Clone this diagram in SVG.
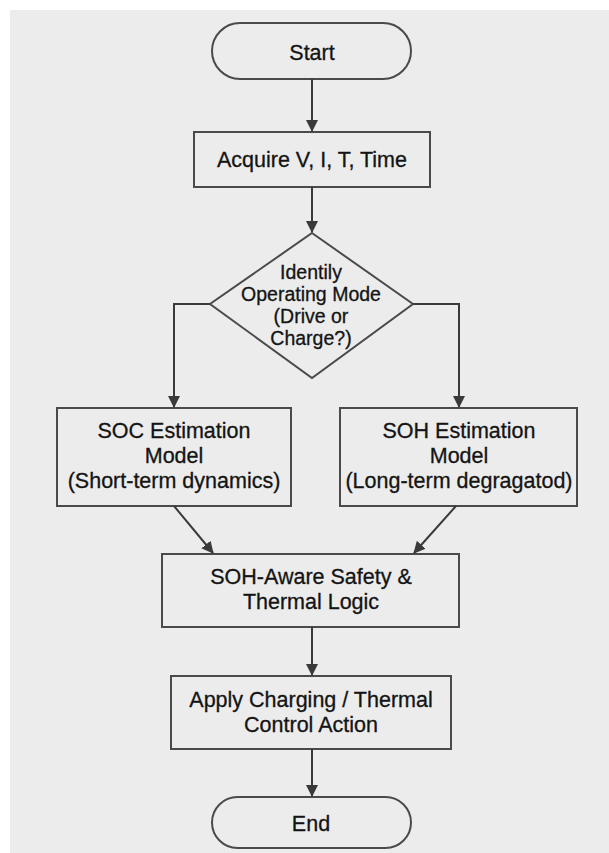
<svg xmlns="http://www.w3.org/2000/svg" width="609" height="853" viewBox="0 0 609 853">
<defs>
<marker id="ah" viewBox="0 0 12 12" refX="11" refY="6" markerWidth="12" markerHeight="12" markerUnits="userSpaceOnUse" orient="auto">
<path d="M0,0 L12,6 L0,12 Z" fill="#3a3a3a"/>
</marker>
<style>
.shape{fill:none;stroke:#4a4a4a;stroke-width:2}
.t{font-family:"Liberation Sans",Arial,sans-serif;font-size:21.5px;fill:#141414;text-anchor:middle;stroke:#141414;stroke-width:0.3}
.d{font-size:19.5px}
.c{fill:none;stroke:#3a3a3a;stroke-width:2;marker-end:url(#ah)}
</style>
</defs>
<rect x="0" y="0" width="609" height="853" fill="#ffffff"/>
<rect x="10" y="10" width="599" height="843" fill="#ececec"/>
<g id="start">
<rect class="shape" x="212" y="23" width="199" height="56" rx="28" ry="28"/>
<text class="t" x="312" y="60">Start</text>
</g>
<g id="acquire">
<rect class="shape" x="194" y="132" width="236" height="55"/>
<text class="t" x="312" y="167">Acquire V, I, T, Time</text>
</g>
<g id="mode">
<polygon class="shape" points="312,233 413,304 312,378 210,304"/>
<text class="t d" x="311" y="279">Identily</text>
<text class="t d" x="311" y="301">Operating Mode</text>
<text class="t d" x="311" y="323">(Drive or</text>
<text class="t d" x="311" y="345">Charge?)</text>
</g>
<g id="soc">
<rect class="shape" x="57" y="408" width="234" height="98"/>
<text class="t" x="174" y="438">SOC Estimation</text>
<text class="t" x="174" y="463">Model</text>
<text class="t" x="174" y="488">(Short-term dynamics)</text>
</g>
<g id="soh">
<rect class="shape" x="340" y="408" width="237" height="98"/>
<text class="t" x="459" y="438">SOH Estimation</text>
<text class="t" x="459" y="463">Model</text>
<text class="t" x="459" y="488">(Long-term degragatod)</text>
</g>
<g id="logic">
<rect class="shape" x="162" y="554" width="297" height="73"/>
<text class="t" x="311" y="584">SOH-Aware Safety &amp;</text>
<text class="t" x="311" y="609">Thermal Logic</text>
</g>
<g id="apply">
<rect class="shape" x="171" y="676" width="280" height="73"/>
<text class="t" x="311" y="707">Apply Charging / Thermal</text>
<text class="t" x="311" y="732">Control Action</text>
</g>
<g id="end">
<rect class="shape" x="212" y="797" width="199" height="51" rx="25.5" ry="25.5"/>
<text class="t" x="311" y="831">End</text>
</g>
<g id="connectors">
<path class="c" d="M312,79 V131"/>
<path class="c" d="M312,187 V232"/>
<path class="c" d="M210,304 H174 V407"/>
<path class="c" d="M413,304 H459 V407"/>
<path class="c" d="M174,506 L213,553"/>
<path class="c" d="M456,506 L414,553"/>
<path class="c" d="M312,627 V675"/>
<path class="c" d="M312,749 V796"/>
</g>
</svg>
